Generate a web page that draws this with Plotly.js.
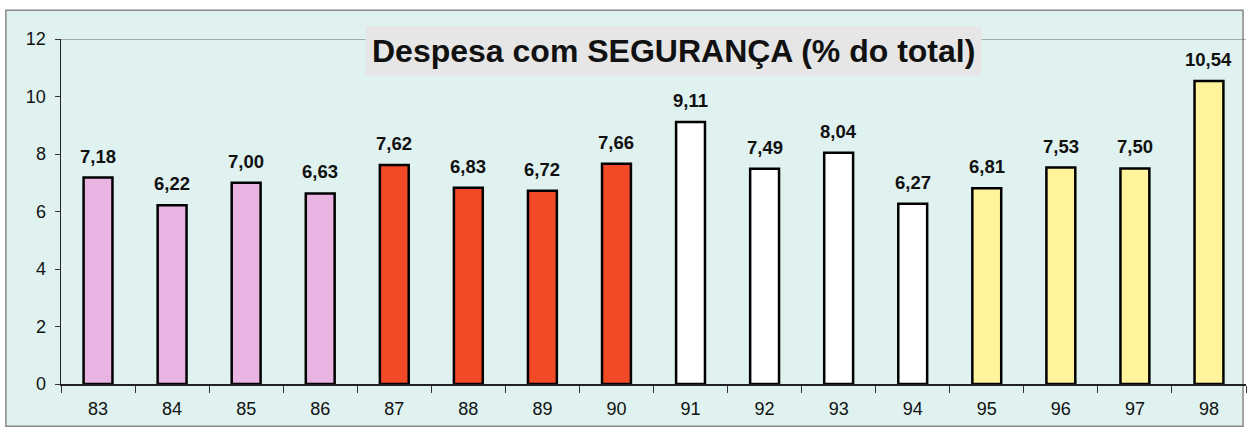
<!DOCTYPE html>
<html>
<head>
<meta charset="utf-8">
<script src="https://cdn.plot.ly/plotly-3.0.1.min.js"></script>
<style>html,body{margin:0;padding:0;background:#fff;}#chart{width:1251px;height:436px;}</style>
</head>
<body>
<div id="chart"></div>
<script>
const years = ["83","84","85","86","87","88","89","90","91","92","93","94","95","96","97","98"];
const values = [7.18,6.22,7.00,6.63,7.62,6.83,6.72,7.66,9.11,7.49,8.04,6.27,6.81,7.53,7.50,10.54];
const barColors = ["#e9b4e2","#e9b4e2","#e9b4e2","#e9b4e2",
                   "#f24a26","#f24a26","#f24a26","#f24a26",
                   "#ffffff","#ffffff","#ffffff","#ffffff",
                   "#fff49c","#fff49c","#fff49c","#fff49c"];
const yTicks = [0,2,4,6,8,10,12];
const titleText = "Despesa com SEGURANÇA (% do total)";
const FONT = "Liberation Sans, Arial, sans-serif";

const trace = {
  type: "bar",
  x: years,
  y: values,
  marker: {color: barColors, line: {color: "#000", width: 2.5}},
  width: 0.39,
  hoverinfo: "none"
};

// category axis: annotation x given as category index
const valueLabels = years.map((yr, i) => ({
  x: i, y: values[i], xref: "x", yref: "y",
  text: "<b>" + values[i].toFixed(2).replace(".", ",") + "</b>",
  showarrow: false, xanchor: "center", yanchor: "bottom", yshift: 9,
  font: {family: FONT, size: 18.5, color: "#111"}
}));

const layout = {
  width: 1251, height: 436,
  margin: {l: 61, r: 5, t: 39, b: 52},
  paper_bgcolor: "#ffffff",
  plot_bgcolor: "rgba(0,0,0,0)",
  showlegend: false,
  font: {family: FONT, color: "#111"},
  xaxis: {
    type: "category",
    range: [-0.5, years.length - 0.5],
    showgrid: false,
    showline: true, linecolor: "#222", linewidth: 1.5,
    ticks: "outside", tickson: "boundaries", ticklen: 7, tickcolor: "#333",
    ticklabelstandoff: 8,
    tickfont: {size: 18, color: "#111"},
    zeroline: false
  },
  yaxis: {
    range: [0, 12],
    tickvals: yTicks,
    showgrid: false,
    showline: true, linecolor: "#222", linewidth: 1.5,
    ticks: "outside", ticklen: 5, tickcolor: "#333",
    ticklabelstandoff: 5,
    tickfont: {size: 18, color: "#111"},
    zeroline: false,
    fixedrange: true
  },
  shapes: [
    {type: "rect", xref: "paper", yref: "paper", layer: "below",
     x0: -0.0465, x1: 0.9975, y0: -0.1225, y1: 1.083,
     fillcolor: "#dff2f0", line: {color: "#888", width: 1.5}},
    {type: "line", xref: "paper", yref: "y", x0: 0, x1: 1, y0: 12, y1: 12,
     line: {color: "#666", width: 1.2}}
  ],
  annotations: valueLabels.concat([
    {text: "<b>" + titleText + "</b>", xref: "paper", yref: "paper",
     x: 0.5165, y: 0.965, xanchor: "center", yanchor: "middle", showarrow: false,
     font: {size: 32, color: "#111", family: FONT},
     bgcolor: "#e6e6e6", borderpad: 6}
  ])
};

Plotly.newPlot("chart", [trace], layout, {displayModeBar: false, staticPlot: true});
</script>
</body>
</html>
